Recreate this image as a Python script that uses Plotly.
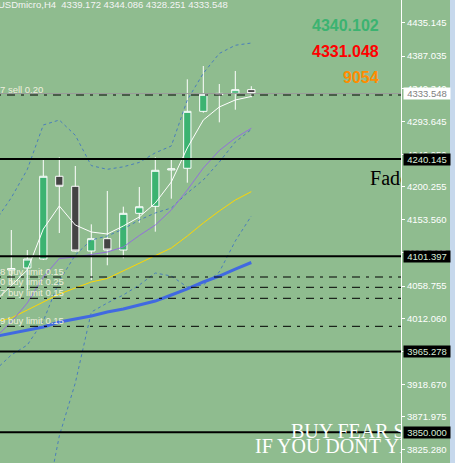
import plotly.graph_objects as go

# ---------------- data ----------------
bar_index = list(range(-1, 16))
open_ = [4081.7, 4081.7, 4084.6, 4097.4, 4215.5, 4201.2, 4108.8, 4126.4, 4110.2, 4162.6,
         4172.6, 4224.5, 4226.9, 4308.2, 4332.2, 4333.9, 4339.172]
high = [4095.0, 4138.8, 4110.2, 4241.6, 4242.6, 4230.2, 4146.9, 4194.5, 4172.1, 4200.2,
        4242.6, 4240.1, 4353.9, 4372.9, 4347.2, 4365.8, 4344.086]
low = [4075.0, 4061.7, 4053.1, 4096.0, 4134.5, 4108.0, 4067.4, 4088.4, 4098.4, 4149.2,
       4136.4, 4183.5, 4206.3, 4306.2, 4292.5, 4310.5, 4328.251]
close = [4090.3, 4083.8, 4097.4, 4215.5, 4201.2, 4108.8, 4126.4, 4110.2, 4162.6, 4172.0,
         4224.0, 4226.0, 4308.2, 4332.5, 4333.8, 4339.1, 4333.548]

fast_ma = [4037.4, 4060.3, 4081.7, 4140.2, 4173.1, 4145.9, 4135.9, 4133.1, 4144.5, 4157.4,
           4177.3, 4207.3, 4255.9, 4295.8, 4314.4, 4324.4, 4329.4]
bb_upper = [4151.6, 4184.9, 4225.2, 4288.7, 4295.8, 4274.0, 4230.7, 4225.4, 4229.0, 4235.3,
            4249.0, 4258.7, 4324.4, 4362.5, 4390.8, 4402.5, 4405.7]
bb_mid = [3938.9, 3960.4, 3974.6, 4008.9, 4066.0, 4103.1, 4124.5, 4130.2, 4140.2, 4153.1,
          4163.1, 4170.2, 4191.6, 4210.2, 4235.9, 4264.4, 4282.3]
bb_lower = [3726.2, 3735.7, 3724.1, 3729.1, 3844.7, 3920.4, 4021.7, 4034.6, 4046.0, 4060.3,
            4077.4, 4073.1, 4057.4, 4060.3, 4078.8, 4123.1, 4158.8]
purple_ma = [3985.2, 4007.5, 4034.6, 4071.7, 4098.1, 4100.3, 4103.8, 4107.4, 4114.5, 4130.9,
             4145.9, 4167.3, 4195.9, 4227.3, 4252.3, 4270.1, 4284.0]
yellow_ma = [4007.5, 4013.2, 4024.6, 4036.0, 4047.4, 4056.0, 4064.6, 4069.6, 4080.3, 4091.0,
             4101.7, 4113.1, 4130.2, 4148.8, 4165.9, 4181.6, 4193.5]
slow_ma = [3986.8, 3991.1, 3996.0, 4000.3, 4007.5, 4011.8, 4016.0, 4021.7, 4026.0, 4031.7,
           4037.4, 4046.0, 4054.6, 4064.6, 4073.1, 4083.1, 4092.4]

bid_price = 4333.548
solid_levels = [4240.145, 4101.397, 3965.278, 3850.000]
order_levels = [4331.5, 4071.7, 4057.0, 4041.3, 4001.3]
order_labels = ["7 sell 0.20", "8 buy limit 0.15", "0 buy limit 0.25",
                "7 buy limit 0.15", "9 buy limit 0.15"]

tick_values = [4435.145, 4387.035, 4340.340, 4293.645, 4246.950, 4200.255, 4153.560,
               4106.865, 4058.755, 4012.060, 3965.365, 3918.670, 3871.975, 3825.280]

header_text = "USDmicro,H4  4339.172 4344.086 4328.251 4333.548"
big_values = ["4340.102", "4331.048", "9054"]
big_colors = ["#3cb371", "#ff0000", "#ff8c00"]

# ---------------- styles ----------------
BG = "#8fbc8f"
BULL = "#3cb371"
BEAR = "#444444"
x_lo, x_hi = -0.706, 24.356
y_lo, y_hi = 3806.19, 4467.12
FONT = "Liberation Sans"

fig = go.Figure()

dash_bb = "3px,3px"
for s in (bb_upper, bb_mid, bb_lower):
    fig.add_trace(go.Scatter(x=bar_index, y=s, mode="lines",
                             line=dict(color="#4a7ebb", width=1, dash=dash_bb),
                             hoverinfo="skip"))
fig.add_trace(go.Scatter(x=bar_index, y=slow_ma, mode="lines",
                         line=dict(color="#4169e1", width=3), hoverinfo="skip"))
fig.add_trace(go.Scatter(x=bar_index, y=yellow_ma, mode="lines",
                         line=dict(color="#ffd700", width=1), hoverinfo="skip"))
fig.add_trace(go.Scatter(x=bar_index, y=purple_ma, mode="lines",
                         line=dict(color="#9370db", width=1), hoverinfo="skip"))
fig.add_trace(go.Scatter(x=bar_index, y=fast_ma, mode="lines",
                         line=dict(color="#ffffff", width=1), hoverinfo="skip"))

fig.add_trace(go.Candlestick(
    x=bar_index, open=open_, high=high, low=low, close=close,
    increasing=dict(line=dict(color="white", width=1), fillcolor=BULL),
    decreasing=dict(line=dict(color="white", width=1), fillcolor=BEAR),
    whiskerwidth=0, hoverinfo="skip"))

# horizontal levels
span = [x_lo - 1, x_hi + 1]
fig.add_trace(go.Scatter(x=span, y=[bid_price] * 2, mode="lines",
                         line=dict(color="#9a9a9a", width=1), hoverinfo="skip"))
for lv in order_levels:
    fig.add_trace(go.Scatter(x=span, y=[lv] * 2, mode="lines",
                             line=dict(color="black", width=1, dash="8px,6px,3px,6px"),
                             hoverinfo="skip"))
for lv in solid_levels:
    fig.add_trace(go.Scatter(x=span, y=[lv] * 2, mode="lines",
                             line=dict(color="black", width=2), hoverinfo="skip"))

# clipped free text on chart
fig.add_trace(go.Scatter(x=[22.42], y=[4210.2], mode="text", text=["Fade"],
                         textposition="middle right", cliponaxis=True,
                         textfont=dict(family="Liberation Serif", size=20, color="black"),
                         hoverinfo="skip"))
fig.add_trace(go.Scatter(x=[17.48, 15.23], y=[3849.0, 3827.6], mode="text",
                         text=["BUY FEAR SELL", "IF YOU DONT YET"],
                         textposition="middle right", cliponaxis=True,
                         textfont=dict(family="Liberation Serif", size=20, color="white"),
                         hoverinfo="skip"))

ann = []
# order labels
for lv, lab in zip(order_levels, order_labels):
    ann.append(dict(xref="paper", yref="y", x=0, y=lv, xanchor="left", yanchor="bottom",
                    xshift=-1, yshift=-1, text=lab, showarrow=False, borderpad=0,
                    font=dict(family=FONT, size=9.5, color="#eeeedd")))
# header
ann.append(dict(xref="paper", yref="paper", x=0, y=1, xanchor="left", yanchor="top",
                xshift=-3, yshift=2, text=header_text, showarrow=False, borderpad=0,
                font=dict(family=FONT, size=9.5, color="#f4f4f4")))
# big numbers
for i, (t, c) in enumerate(zip(big_values, big_colors)):
    ann.append(dict(xref="paper", yref="paper", x=380.7 / 401, y=1 - (25.2 + 26 * i) / 463,
                    xanchor="right", yanchor="middle", text=f"<b>{t}</b>", showarrow=False,
                    font=dict(family=FONT, size=16, color=c)))
# price boxes on axis
ann.append(dict(xref="paper", yref="y", x=402.5 / 401, y=bid_price, xanchor="left",
                yanchor="middle", text=f"{bid_price:.3f}", showarrow=False, width=46,
                height=11, bgcolor="white", borderpad=0,
                font=dict(family=FONT, size=9.5, color="#808080")))
for lv in solid_levels:
    ann.append(dict(xref="paper", yref="y", x=402.5 / 401, y=lv, xanchor="left",
                    yanchor="middle", text=f"{lv:.3f}", showarrow=False, width=46,
                    height=11, bgcolor="black", borderpad=0,
                    font=dict(family=FONT, size=9.5, color="#d8ecd8")))

shapes = [dict(type="rect", xref="paper", yref="paper", x0=450 / 401, x1=456 / 401,
               y0=0, y1=1, fillcolor="#c6d8ec", line=dict(width=0), layer="above")]

fig.update_layout(
    width=455, height=463, margin=dict(l=0, r=54, t=0, b=0, pad=0, autoexpand=False),
    paper_bgcolor=BG, plot_bgcolor=BG, showlegend=False, boxgap=0.35,
    xaxis=dict(range=[x_lo, x_hi], visible=False, rangeslider=dict(visible=False),
               fixedrange=True, automargin=False),
    yaxis=dict(range=[y_lo, y_hi], side="right", tickvals=tick_values,
               ticktext=[f"{v:.3f}" for v in tick_values],
               tickfont=dict(family=FONT, size=9.5, color="white"),
               ticks="outside", ticklen=3, tickcolor="white", showline=True,
               linecolor="white", linewidth=1, showgrid=False, zeroline=False,
               fixedrange=True, automargin=False),
    annotations=ann, shapes=shapes, hovermode=False,
)

fig.write_html(
    "out.html",
    config={"displayModeBar": False},
    post_script="document.body.style.margin='0';document.body.style.overflow='hidden';",
)
